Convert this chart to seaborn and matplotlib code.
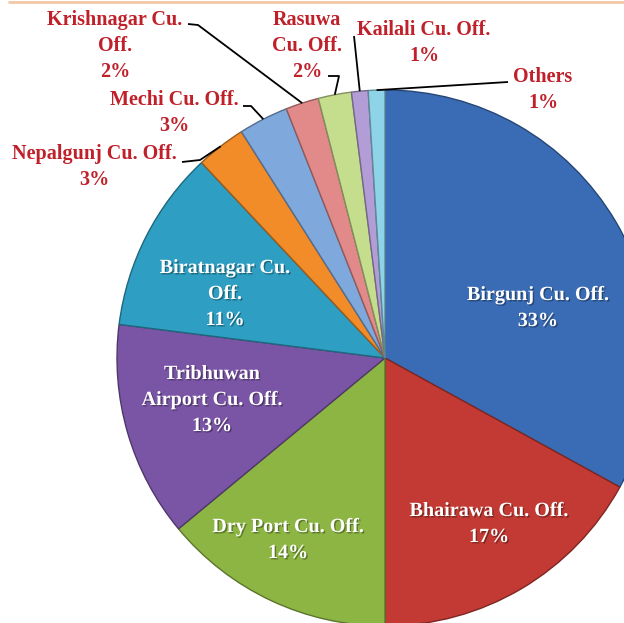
import numpy as np
import matplotlib
matplotlib.use("Agg")
import matplotlib.pyplot as plt
import matplotlib.colors as mcolors
import matplotlib.patheffects as pe
from matplotlib.lines import Line2D
import seaborn as sns

# ==========================================
# Data
# ==========================================

offices = [
    "Birgunj Cu. Off.", "Bhairawa Cu. Off.", "Dry Port Cu. Off.",
    "Tribhuwan Airport Cu. Off.", "Biratnagar Cu. Off.", "Nepalgunj Cu. Off.",
    "Mechi Cu. Off.", "Krishnagar Cu. Off.", "Rasuwa Cu. Off.",
    "Kailali Cu. Off.", "Others",
]
shares = [33, 17, 14, 13, 11, 3, 3, 2, 2, 1, 1]

# label text as broken in the chart
label_text = [
    "Birgunj Cu. Off.", "Bhairawa Cu. Off.", "Dry Port Cu. Off.",
    "Tribhuwan\nAirport Cu. Off.", "Biratnagar Cu.\nOff.", "Nepalgunj Cu. Off.",
    "Mechi Cu. Off.", "Krishnagar Cu.\nOff.", "Rasuwa\nCu. Off.",
    "Kailali Cu. Off.", "Others",
]

slice_colors = [
    "#3a6cb5", "#c23a33", "#8cb543", "#7b55a5", "#2e9ec2", "#f28c28",
    "#7fa8dc", "#e28a8a", "#c5de8e", "#b39dd6", "#8ed3e8",
]

# ==========================================
# Layout (pixels, y measured from top)
# ==========================================

W, H = 624, 623
pie_center = (385, 358)
pie_radius = 268

inside_pos = {
    0: (538, 308),
    1: (489, 524),
    2: (288, 540),
    3: (212, 400),
    4: (225, 294),
}

# text centre, leader start, optional elbow
outside_pos = {
    5: ((94, 167), [(182, 162), (200, 160)]),
    6: ((174, 113), [(243, 106), (251, 106)]),
    7: ((115, 46), [(188, 24), (198, 25)]),
    8: ((307, 46), [(328, 76), (339, 76)]),
    9: ((424, 43), [(354, 36)]),
    10: ((543, 90), [(508, 82)]),
}

# ==========================================
# Plot
# ==========================================

sns.set_theme(style="white")
plt.rcParams["font.family"] = ["Liberation Serif", "DejaVu Serif"]

fig = plt.figure(figsize=(W / 100, H / 100), dpi=100)
fig.patch.set_facecolor("white")
ax = fig.add_axes([0, 0, 1, 1])

wedges, _ = ax.pie(
    shares,
    colors=slice_colors,
    startangle=90,
    counterclock=False,
    center=(pie_center[0], H - pie_center[1]),
    radius=pie_radius,
    frame=True,
)

for w, c in zip(wedges, slice_colors):
    dark = np.array(mcolors.to_rgb(c)) * 0.65
    w.set_edgecolor(dark)
    w.set_linewidth(1.0)

ax.set_xlim(0, W)
ax.set_ylim(0, H)
ax.set_aspect("auto")
ax.axis("off")

shadow = [pe.SimplePatchShadow(offset=(1, -1), shadow_rgbFace="black", alpha=0.35), pe.Normal()]

for i, (x, y) in inside_pos.items():
    ax.text(
        x, H - y,
        f"{label_text[i]}\n{shares[i]}%",
        ha="center", va="center", multialignment="center",
        color="white", fontsize=14.5, fontweight="bold",
        linespacing=1.4, path_effects=shadow,
    )

label_red = "#c0202a"
cx, cy = pie_center

for i, ((x, y), leader) in outside_pos.items():
    ax.text(
        x, H - y,
        f"{label_text[i]}\n{shares[i]}%",
        ha="center", va="center", multialignment="center",
        color=label_red, fontsize=14.5, fontweight="bold",
        linespacing=1.4,
    )
    w = wedges[i]
    mid = np.deg2rad((w.theta1 + w.theta2) / 2)
    end = (cx + pie_radius * np.cos(mid), cy - pie_radius * np.sin(mid))
    pts = leader + [end]
    ax.plot(
        [p[0] for p in pts], [H - p[1] for p in pts],
        color="black", linewidth=1.3, solid_capstyle="butt",
    )

fig.add_artist(Line2D([0.015, 1.0], [0.997, 0.997], transform=fig.transFigure,
                      color="#f3c6a5", linewidth=2))

plt.savefig("out.png", dpi=100)
